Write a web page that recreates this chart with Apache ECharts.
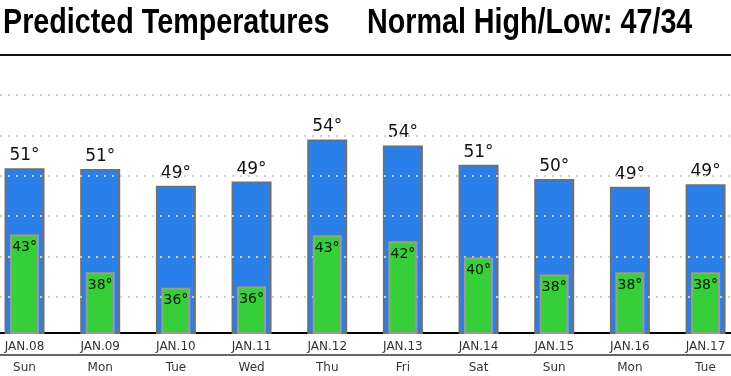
<!DOCTYPE html>
<html>
<head>
<meta charset="utf-8">
<script src="https://cdn.jsdelivr.net/npm/echarts@6/dist/echarts.min.js"></script>
<style>
html,body{margin:0;padding:0;background:#fff;}
#main{width:731px;height:376px;}
</style>
</head>
<body>
<div id="main"></div>
<script>
var dates=['JAN.08','JAN.09','JAN.10','JAN.11','JAN.12','JAN.13','JAN.14','JAN.15','JAN.16','JAN.17'];
var days=['Sun','Mon','Tue','Wed','Thu','Fri','Sat','Sun','Mon','Tue'];
// highs / lows, labels show them rounded
var highs=[51.0,50.9,48.9,49.4,54.4,53.7,51.4,49.7,48.8,49.1];
var lows=[43.0,37.9,35.8,36.0,42.9,42.1,39.9,37.6,37.9,37.9];
var titleLeft='Predicted Temperatures';
var titleRight='Normal High/Low: 47/34';

var myChart=echarts.init(document.getElementById('main'));
var lblFont='"DejaVu Sans", Verdana, sans-serif';
var ttlFont='"Liberation Sans", Arial, sans-serif';

function deg(p){
	return Math.round(p.value)+'°';
}

var option={
	backgroundColor:'#fff',
	animation:false,
	graphic:[
		//narrow bold font faked with scaleX
		{type:'text',x:3,y:23,scaleX:0.82,style:{text:titleLeft,font:'bold 35px '+ttlFont,fill:'#000',verticalAlign:'middle'}},
		{type:'text',x:367,y:23,scaleX:0.82,style:{text:titleRight,font:'bold 35px '+ttlFont,fill:'#000',verticalAlign:'middle'}},
		{type:'line',shape:{x1:0,y1:55,x2:731,y2:55},style:{stroke:'#111',lineWidth:2}}
	],
	grid:[
		{left:-13.3,right:-12.4,top:95,bottom:43,outerBoundsMode:'none'},//bars
		{left:0,right:0,top:95,bottom:79,outerBoundsMode:'none'}//dotted lines
	],
	xAxis:[{
		gridIndex:0,
		type:'category',
		data:dates,
		axisLine:{lineStyle:{color:'#000',width:2}},
		axisTick:{alignWithLabel:true,length:4,lineStyle:{color:'#222'}},
		axisLabel:{margin:8,fontSize:12,color:'#333',fontFamily:lblFont}
	},{
		gridIndex:0,
		type:'category',
		data:days,
		position:'bottom',
		offset:22,
		axisLine:{lineStyle:{color:'#666',width:2}},
		axisTick:{alignWithLabel:true,length:5,lineStyle:{color:'#222'}},
		axisLabel:{margin:7,fontSize:12,color:'#333',fontFamily:lblFont}
	},{
		gridIndex:1,
		type:'value',
		show:false
	}],
	yAxis:[{
		gridIndex:0,type:'value',min:31.4,max:59.7,show:false
	},{
		gridIndex:0,type:'value',min:29.7,max:61.86,show:false
	},{
		gridIndex:1,type:'value',min:0,max:5,interval:1,z:3,
		axisLine:{show:false},axisTick:{show:false},axisLabel:{show:false},
		splitLine:{show:true,lineStyle:{color:'#cfcfcf',width:2,type:[2,6]}}
	}],
	series:[{
		name:'high',
		type:'bar',
		xAxisIndex:0,
		yAxisIndex:0,
		z:1,
		barWidth:40,
		data:highs,
		itemStyle:{color:'#2a80e8',borderColor:'#707070',borderWidth:2},
		label:{show:true,position:'top',distance:4,formatter:deg,fontSize:17,color:'#111',fontFamily:lblFont}
	},{
		name:'low',
		type:'bar',
		xAxisIndex:1,
		yAxisIndex:1,
		z:5,
		barWidth:29,
		data:lows,
		itemStyle:{color:'#36cf3a',borderColor:'#9a9a9a',borderWidth:2},
		label:{show:true,position:'insideTop',distance:6,formatter:deg,fontSize:14,color:'#111',fontFamily:lblFont}
	}]
};

myChart.setOption(option);
</script>
</body>
</html>
